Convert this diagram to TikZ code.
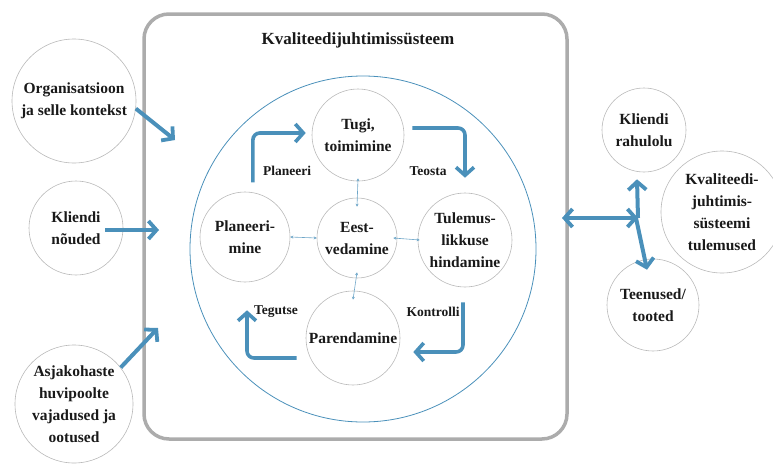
\documentclass[tikz,border=0pt]{standalone}
\usepackage{fontspec}
\setmainfont{Liberation Serif}
\usetikzlibrary{arrows.meta}
\definecolor{qblue}{RGB}{74,144,186}
\definecolor{qtext}{RGB}{25,25,25}
\begin{document}
\begin{tikzpicture}[x=1pt,y=-1pt,
  circ/.style={circle,draw=gray!55,line width=0.6pt,inner sep=0pt,align=center,
    text=qtext,font=\fontsize{15.5}{22}\selectfont\bfseries},
  lbl/.style={text=qtext,font=\fontsize{13.5}{16}\selectfont\bfseries},
  cyc/.style={draw=qblue,line width=3.6pt,rounded corners=7pt,
    -{Straight Barb[length=8pt,width=18pt,line width=3.6pt]}},
  big/.style={draw=qblue,line width=4pt,
    -{Straight Barb[length=8pt,width=18pt,line width=3.8pt]}},
  bigb/.style={draw=qblue,line width=4pt,
    {Straight Barb[length=8pt,width=18pt,line width=3.8pt]}-{Straight Barb[length=8pt,width=18pt,line width=3.8pt]}},
  thin/.style={draw=qblue!80,line width=0.6pt,
    {Stealth[length=3pt,width=3pt]}-{Stealth[length=3pt,width=3pt]}}
]
\useasboundingbox (0,0) rectangle (773,463);

% outer system box
\draw[gray!65,line width=3.5pt,rounded corners=25pt] (144,14) rectangle (567,439);
\node[text=qtext,font=\fontsize{17}{20}\selectfont\bfseries] (title) at (358,40) {Kvaliteedijuhtimissüsteem};

% large blue circle
\draw[qblue,line width=0.8pt] (363,249) circle[radius=173];

% inner circles
\node[circ,minimum size=92pt] (tugi) at (358,135) {Tugi,\\toimimine};
\node[circ,minimum size=80pt] (eest) at (357,238) {Eest-\\vedamine};
\node[circ,minimum size=90pt] (plan) at (245,237) {Planeeri-\\mine};
\node[circ,minimum size=94pt] (tul) at (465,240) {Tulemus-\\likkuse\\hindamine};
\node[circ,minimum size=94pt] (par) at (353,338) {Parendamine};

% outer circles left
\node[circ,minimum size=124pt] (org) at (74,101) {Organisatsioon\\ja selle kontekst};
\node[circ,minimum size=94pt] (kn) at (76,228) {Kliendi\\nõuded};
\node[circ,minimum size=118pt] (asj) at (74,404) {Asjakohaste\\huvipoolte\\vajadused ja\\ootused};

% outer circles right
\node[circ,minimum size=84pt] (kr) at (644,130) {Kliendi\\rahulolu};
\node[circ,minimum size=122pt] (kjst) at (722,212) {Kvaliteedi-\\juhtimis-\\süsteemi\\tulemused};
\node[circ,minimum size=92pt] (tt) at (653,305) {Teenused/\\tooted};

% PDCA cycle arrows
\draw[cyc] ([yshift=10pt]plan.80) |- ([xshift=-6pt,yshift=2pt]tugi.west);
\draw[cyc] ([xshift=8pt,yshift=7pt]tugi.east) -| ([yshift=15pt]tul.north);
\draw[cyc] ([xshift=-2pt,yshift=-15pt]tul.south) |- ([xshift=13pt,yshift=-14pt]par.east);
\draw[cyc] ([xshift=-9pt,yshift=-20pt]par.west) -| ([xshift=2pt,yshift=-28pt]plan.south);

\node[lbl] (lp) at (287,171) {Planeeri};
\node[lbl] (lt) at (428,171) {Teosta};
\node[lbl] (lk) at (433,312) {Kontrolli};
\node[lbl] (lg) at (276,312) {Tegutse};

% thin connectors to leadership
\draw[thin] ([yshift=3pt]tugi.south) -- ([yshift=-9pt]eest.north);
\draw[thin] (plan.east) -- (eest.west);
\draw[thin] ([xshift=-4pt]eest.east) -- ([xshift=2pt]tul.west);
\draw[thin] ([yshift=6pt]eest.south) -- ([yshift=-9pt]par.north);

% inputs
\coordinate (inA) at (175,140);
\coordinate (inB) at (159,230);
\coordinate (inC) at (158,328);
\draw[big] (org.-7) -- (inA);
\draw[big] ([xshift=29pt,yshift=-2pt]kn.center) -- (inB);
\draw[big] (asj.38) -- (inC);

% outputs
\coordinate (outL) at (562,218);
\coordinate (jn) at (638,218);
\draw[bigb] (outL) -- (jn);
\draw[big] (jn) -- ([xshift=-7pt,yshift=-7pt]kr.south);
\draw[big] ([xshift=-2pt]jn) -- ([xshift=-6pt,yshift=-11pt]tt.north);
\end{tikzpicture}
\end{document}
